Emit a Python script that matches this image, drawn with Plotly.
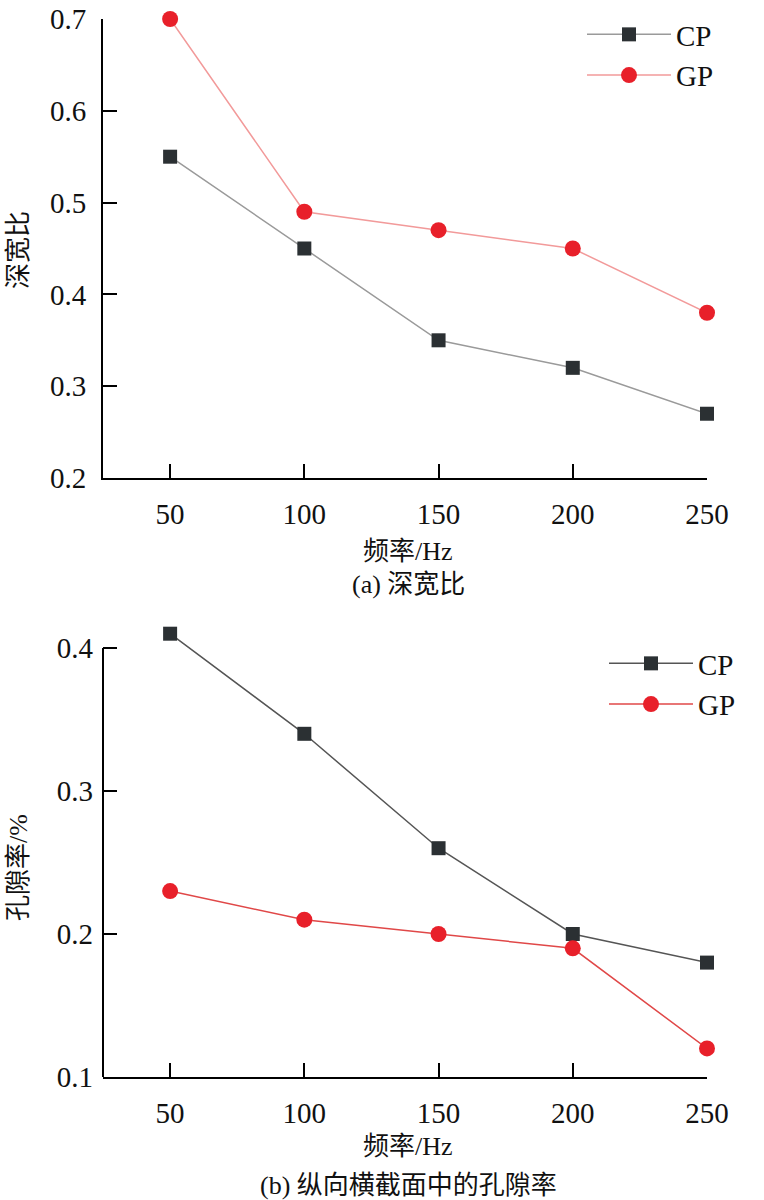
import plotly.graph_objs as go
from plotly.subplots import make_subplots
#
# Frequency values (Hz)
freq = [50, 100, 150, 200, 250]
#
# (a) depth-to-width ratio
ratio_cp = [0.55, 0.45, 0.35, 0.32, 0.27]
ratio_gp = [0.70, 0.49, 0.47, 0.45, 0.38]
#
# (b) porosity in longitudinal cross section
poro_cp = [0.41, 0.34, 0.26, 0.20, 0.18]
poro_gp = [0.23, 0.21, 0.20, 0.19, 0.12]
#
series_names = ['CP', 'GP']
x_ticks = [50, 100, 150, 200, 250]
ticks_a = [0.2, 0.3, 0.4, 0.5, 0.6, 0.7]
ticks_b = [0.1, 0.2, 0.3, 0.4]
#
FONT = 'Liberation Serif, Times New Roman, Noto Sans CJK SC'
W, H = 764, 1200
#
def px(x):
    return x / W
#
def py(y):
    return 1 - y / H
#
fig = make_subplots(rows=2, cols=1)
#
# Top panel
fig.add_trace(go.Scatter(
    x=freq, y=ratio_cp, name=series_names[0], mode='lines+markers',
    line=dict(color='#9a9a9a', width=1.5),
    marker=dict(symbol='square', size=14, color='#2b3033'),
    cliponaxis=False, legend='legend'), row=1, col=1)
fig.add_trace(go.Scatter(
    x=freq, y=ratio_gp, name=series_names[1], mode='lines+markers',
    line=dict(color='#f29a9a', width=1.5),
    marker=dict(symbol='circle', size=16, color='#e8202a'),
    cliponaxis=False, legend='legend'), row=1, col=1)
#
# Bottom panel
fig.add_trace(go.Scatter(
    x=freq, y=poro_cp, name=series_names[0], mode='lines+markers',
    line=dict(color='#555555', width=1.5),
    marker=dict(symbol='square', size=14, color='#2b3033'),
    cliponaxis=False, legend='legend2'), row=2, col=1)
fig.add_trace(go.Scatter(
    x=freq, y=poro_gp, name=series_names[1], mode='lines+markers',
    line=dict(color='#e04848', width=1.5),
    marker=dict(symbol='circle', size=16, color='#e8202a'),
    cliponaxis=False, legend='legend2'), row=2, col=1)
#
axis_style = dict(
    showline=True, linecolor='black', linewidth=2,
    ticks='inside', ticklen=14, tickwidth=2, tickcolor='black',
    showgrid=False, zeroline=False, automargin=False,
    tickfont=dict(family=FONT, size=29, color='#111'),
    ticklabelstandoff=9
)
#
fig.update_xaxes(range=[25, 250], tickvals=x_ticks, **axis_style)
fig.update_yaxes(tickformat='.1f', **axis_style)
fig.update_xaxes(domain=[px(103), px(707)])
fig.update_yaxes(range=[0.2, 0.7], tickvals=ticks_a, domain=[py(478), py(19)], row=1, col=1)
#
# Bottom y range runs a little above 0.4 so the first CP point stays visible;
# the axis line itself is drawn only up to 0.4
fig.update_yaxes(range=[0.1, 0.42], tickvals=ticks_b, showline=False,
                 domain=[py(1077), py(619.4)], row=2, col=1)
fig.add_shape(type='line', xref='x2 domain', yref='y2', x0=0, x1=0,
              y0=ticks_b[0], y1=ticks_b[-1], line=dict(color='black', width=2))
#
# Axis titles and panel captions
texts = [
    ('深宽比', 18, 250, -90),
    ('频率/Hz', 408, 551, 0),
    ('(a) 深宽比', 408, 584, 0),
    ('孔隙率/%', 18, 868, -90),
    ('频率/Hz', 408, 1146, 0),
    ('(b) 纵向横截面中的孔隙率', 408, 1185, 0),
]
annotations = []
for t, x, y, ang in texts:
    annotations.append(dict(
        text=t, x=px(x), y=py(y), xref='paper', yref='paper',
        xanchor='center', yanchor='middle', showarrow=False, textangle=ang,
        font=dict(family=FONT, size=26, color='#111')))
#
legend_style = dict(
    xanchor='left', yanchor='top', bgcolor='rgba(0,0,0,0)',
    font=dict(family=FONT, size=29, color='#111'),
    itemwidth=84, tracegroupgap=0
)
layout = dict(
    width=W, height=H,
    margin=dict(l=0, r=0, t=0, b=0, autoexpand=False),
    paper_bgcolor='white', plot_bgcolor='white',
    annotations=annotations,
    showlegend=True,
    legend=dict(x=px(582), y=py(9), **legend_style),
    legend2=dict(x=px(604), y=py(638), **legend_style),
)
fig.update_layout(**layout)
#
# Drop the default page margin so the figure fills the window exactly
fig.write_html('out.html', config={'displayModeBar': False},
               post_script="document.body.style.margin='0';")
